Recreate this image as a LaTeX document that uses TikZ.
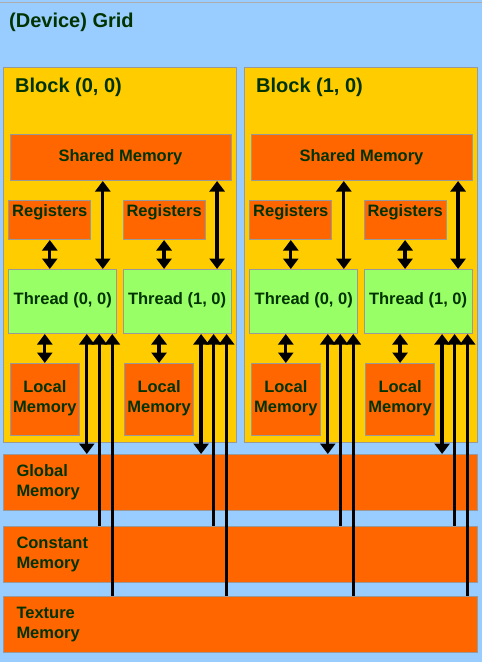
\documentclass[tikz,border=0pt]{standalone}
\usepackage{fontspec}
\setmainfont{Liberation Sans}
\usetikzlibrary{arrows.meta,calc}
\definecolor{bgblue}{HTML}{99CCFF}
\definecolor{blockyellow}{HTML}{FFCC00}
\definecolor{memorange}{HTML}{FF6600}
\definecolor{threadgreen}{HTML}{99FF66}
\definecolor{txtgreen}{HTML}{003300}
\definecolor{edgegray}{HTML}{999999}
\begin{document}
\begin{tikzpicture}[x=1pt,y=-1pt,
  lbl/.style={text=txtgreen, font=\bfseries\fontsize{16.5}{20}\selectfont},
  ttl/.style={text=txtgreen, font=\bfseries\fontsize{20}{24}\selectfont, inner sep=0pt, anchor=base west},
  box/.style={draw=edgegray, line width=1pt, inner sep=0pt, anchor=north west, lbl},
  blockbox/.style={box, fill=blockyellow, minimum width=232.5pt, minimum height=375pt},
  membox/.style={box, fill=memorange},
  sharedbox/.style={membox, minimum width=221pt, minimum height=46pt},
  regbox/.style={membox, minimum width=82pt, minimum height=39pt,
     label={[lbl, anchor=north, inner sep=0pt, yshift=-4.3pt]north:Registers}},
  threadbox/.style={box, fill=threadgreen, minimum width=108pt, minimum height=64pt,
     text height=12pt, text depth=7pt},
  localbox/.style={membox, minimum width=69pt, minimum height=72pt, align=center,
     text depth=6.5pt},
  devbox/.style={membox, text width=447.5pt, inner xsep=13pt, minimum height=56pt, align=left},
  lnk/.style={line width=3.3pt, black},
  both/.style={lnk, {Triangle[width=15pt,length=10.5pt]}-{Triangle[width=15pt,length=10.5pt]}},
  up/.style={lnk, {Triangle[width=15pt,length=10.5pt]}-}
]
\fill[bgblue] (0,0) rectangle (482,662);
\useasboundingbox (0,0) rectangle (482,662);
\draw[edgegray!80, line width=1.5pt] (0,2.5) -- (482,2.5);
\node[ttl] (grid) at (9,27) {(Device) Grid};

\foreach \bi/\bx in {0/3,1/244}{
  \node[blockbox] (blk\bi) at (\bx,67) {};
  \node[ttl] (blklab\bi) at (\bx+12,92.8) {Block (\bi, 0)};
  \node[sharedbox] (sm\bi) at (\bx+6.5,134) {Shared Memory};
  \foreach \ti/\tx in {0/5.3,1/119.6}{
    \node[regbox] (reg\bi\ti) at (\bx+\tx,200) {};
    \node[threadbox] (th\bi\ti) at (\bx+\tx,269) {Thread (\ti, 0)};
    \node[localbox] (loc\bi\ti) at (\bx+\tx+1.5,363) {Local\\Memory};
  }
}

\node[devbox] (gmem) at (3,454) {Global\\Memory};
\node[devbox] (cmem) at (3,526) {Constant\\Memory};
\node[devbox] (tmem) at (3,596) {Texture\\Memory};

\foreach \bi in {0,1}{
  \foreach \ti in {0,1}{
    \draw[both] (reg\bi\ti.south) -- (reg\bi\ti.south |- th\bi\ti.north);
    \draw[both] ([xshift=94.5pt]th\bi\ti.north west) -- ([xshift=94.5pt]th\bi\ti.north west |- sm\bi.south);
    \draw[both] (loc\bi\ti.north) -- (loc\bi\ti.north |- th\bi\ti.south);
    \draw[both] ([xshift=78.5pt]th\bi\ti.south west) -- ([xshift=78.5pt]th\bi\ti.south west |- gmem.north);
    \draw[up] ([xshift=91pt]th\bi\ti.south west) -- ([xshift=91pt]th\bi\ti.south west |- cmem.north);
    \draw[up] ([xshift=104pt]th\bi\ti.south west) -- ([xshift=104pt]th\bi\ti.south west |- tmem.north);
  }
}
\end{tikzpicture}
\end{document}
